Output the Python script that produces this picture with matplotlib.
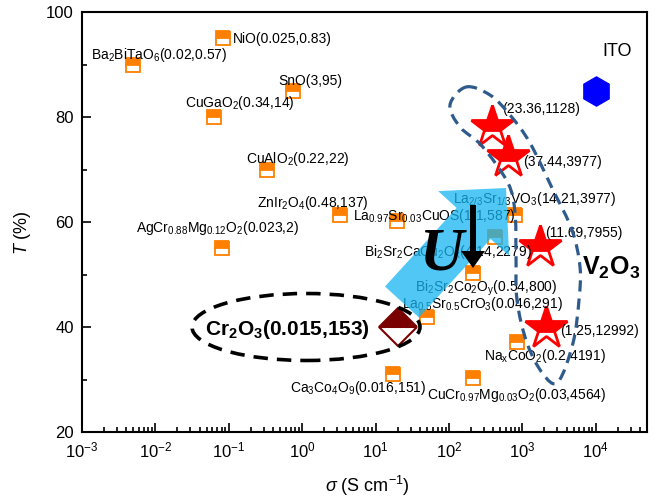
import numpy as np
import matplotlib
matplotlib.use("Agg")
import matplotlib.pyplot as plt
from matplotlib.patches import FancyArrow, Ellipse, PathPatch
from matplotlib.path import Path

plt.rcParams['font.family'] = ['Liberation Sans', 'DejaVu Sans']
plt.rcParams['mathtext.fontset'] = 'custom'
plt.rcParams['mathtext.rm'] = 'Liberation Sans'
plt.rcParams['mathtext.it'] = 'Liberation Sans:italic'
plt.rcParams['mathtext.bf'] = 'Liberation Sans:bold'

# p-type oxides (orange half-filled squares)
oxide_labels = [
    'Ba$_2$BiTaO$_6$(0.02,0.57)',
    'NiO(0.025,0.83)',
    'SnO(3,95)',
    'CuGaO$_2$(0.34,14)',
    'CuAlO$_2$(0.22,22)',
    'ZnIr$_2$O$_4$(0.48,137)',
    'AgCr$_{0.88}$Mg$_{0.12}$O$_2$(0.023,2)',
    'La$_{0.97}$Sr$_{0.03}$CuOS(1.1,587)',
    'La$_{2/3}$Sr$_{1/3}$VO$_3$(14.21,3977)',
    'Bi$_2$Sr$_2$CaCu$_2$O$_\\mathrm{x}$(4.14,2279)',
    'Bi$_2$Sr$_2$Co$_2$O$_\\mathrm{y}$(0.54,800)',
    'La$_{0.5}$Sr$_{0.5}$CrO$_3$(0.046,291)',
    'Ca$_3$Co$_4$O$_9$(0.016,151)',
    'CuCr$_{0.97}$Mg$_{0.03}$O$_2$(0.03,4564)',
    'Na$_\\mathrm{x}$CoO$_2$(0.2,4191)',
]
oxide_sigma = [0.005, 0.084, 0.76, 0.063, 0.33, 3.3, 0.081, 19.8, 807, 418, 216, 51, 17.5, 216, 834]
oxide_T = [90, 95, 85, 80, 70, 61.3, 55, 60.2, 61.3, 57.1, 50.3, 41.9, 31, 30.3, 37.1]

# V2O3 films (red stars)
v2o3_labels = ['(23.36,1128)', '(37.44,3977)', '(11.69,7955)', '(1.25,12992)']
v2o3_sigma = [392, 648, 1718, 2074]
v2o3_T = [78.1, 72.4, 55.2, 39.8]

cr2o3_label = 'Cr$_\\mathbf{2}$O$_\\mathbf{3}$(0.015,153)'
cr2o3_sigma = [20.5]
cr2o3_T = [40]

ito_sigma = [1e4]
ito_T = [85]

# label offsets (pixels, right / up from the marker)
oxide_offsets = [(-42, 6), (10, -5), (-15, 6), (-29, 10), (-21, 7), (-83, 8), (-86, 16),
                 (-44, 1), (-62, 12), (-131, -19), (-58, -19), (-25, 9), (-103, -18),
                 (-46, -21), (-33, -18)]
v2o3_offsets = [(10, 14), (15, -9), (6, 10), (15, -7)]
cr2o3_offset = (-193, -8)

ORANGE = '#FF7F00'

fig = plt.figure(figsize=(6.68, 5.0), dpi=100)
ax = fig.add_axes([82 / 668, 68 / 500, 565 / 668, 420 / 500])
ax.set_xscale('log')

ax.plot(oxide_sigma, oxide_T, ls='none', marker='s', ms=10, fillstyle='top',
        mfc=ORANGE, mfcalt='white', mec=ORANGE, mew=1.3, zorder=3)
ax.plot(v2o3_sigma, v2o3_T, ls='none', marker='*', ms=32, fillstyle='top',
        mfc='red', mfcalt='white', mec='red', mew=2, zorder=3)
ax.plot(cr2o3_sigma, cr2o3_T, ls='none', marker='D', ms=19, fillstyle='top',
        mfc='#7A0000', mfcalt='white', mec='#7A0000', mew=1.5, zorder=3)
ax.plot(ito_sigma, ito_T, ls='none', marker='h', ms=21, color='#0000FF', zorder=3)

px2pt = 0.72
for lab, x, y, off in zip(oxide_labels, oxide_sigma, oxide_T, oxide_offsets):
    ax.annotate(lab, (x, y), xytext=(off[0] * px2pt, off[1] * px2pt), textcoords='offset points',
                ha='left', va='baseline', fontsize=10, zorder=4)
for lab, x, y, off in zip(v2o3_labels, v2o3_sigma, v2o3_T, v2o3_offsets):
    ax.annotate(lab, (x, y), xytext=(off[0] * px2pt, off[1] * px2pt), textcoords='offset points',
                ha='left', va='baseline', fontsize=10, zorder=4)
ax.annotate(cr2o3_label, (cr2o3_sigma[0], cr2o3_T[0]),
            xytext=(cr2o3_offset[0] * px2pt, cr2o3_offset[1] * px2pt), textcoords='offset points',
            ha='left', va='baseline', fontsize=15, fontweight='bold', zorder=4)

ax.set_xlim(1e-3, 5e4)
ax.set_ylim(20, 100)
ax.set_yticks([20, 40, 60, 80, 100])
ax.set_yticks(np.arange(30, 100, 20), minor=True)
ax.tick_params(which='both', direction='in', top=False, right=False, labelsize=12, width=1.2)
ax.tick_params(which='major', length=6.5, pad=6)
ax.tick_params(which='minor', length=3.5)
for sp in ax.spines.values():
    sp.set_linewidth(1.5)

ax.set_xlabel('$\\sigma$ (S cm$^{-1}$)', fontsize=13)
ax.set_ylabel('$T$ (%)', fontsize=13)
ax.xaxis.set_label_coords(0.506, -0.1)
ax.yaxis.set_label_coords(-0.087, 0.474)


def inch(px, py):
    return (px / 100.0, (500 - py) / 100.0)


def smooth_closed(pts):
    pts = np.array(pts, dtype=float)
    n = len(pts)
    verts = [pts[0]]
    codes = [Path.MOVETO]
    for i in range(n):
        p0, p1, p2, p3 = pts[i - 1], pts[i], pts[(i + 1) % n], pts[(i + 2) % n]
        verts += [p1 + (p2 - p0) / 6.0, p2 - (p3 - p1) / 6.0, p2]
        codes += [Path.CURVE4] * 3
    return Path(verts, codes)


tr = fig.dpi_scale_trans

# big cyan arrow
x0, y0 = inch(402, 302)
x1, y1 = inch(506, 188)
fig.add_artist(FancyArrow(x0, y0, x1 - x0, y1 - y0, width=0.46, head_width=0.96,
                          head_length=0.48, length_includes_head=True, transform=tr,
                          color='#15B5F1', alpha=0.75, lw=0, zorder=5))

# black ellipse around Cr2O3
fig.add_artist(Ellipse(inch(306, 327), 2.28, 0.67, transform=tr, fill=False, ec='black',
                       lw=2.6, ls=(0, (4, 2.5)), zorder=6))

# blue dashed loop around V2O3
loop_px = [(466, 87), (490, 95), (510, 115), (530, 143), (553, 190), (572, 230), (580, 267),
           (579, 300), (573, 343), (558, 382), (543, 374), (527, 343), (517, 300), (516, 253),
           (515, 213), (508, 183), (482, 146), (460, 127), (450, 105)]
loop = smooth_closed([inch(*p) for p in loop_px])
fig.add_artist(PathPatch(loop, transform=tr, fill=False, ec='#2F5B8C', lw=2.3,
                         ls=(0, (3.5, 2.2)), zorder=6))

# black arrow and U
bx0, by0 = inch(473, 205)
bx1, by1 = inch(473, 268)
fig.add_artist(FancyArrow(bx0, by0, 0, by1 - by0, width=0.06, head_width=0.24, head_length=0.17,
                          length_includes_head=True, transform=tr, color='black', lw=0, zorder=7))
fig.text(441 / 668, 1 - 254 / 500, 'U', fontsize=44, family='Liberation Serif', style='italic',
         fontweight='bold', ha='center', va='center', zorder=7)

fig.text(582 / 668, 1 - 275 / 500, 'V$_\\mathbf{2}$O$_\\mathbf{3}$', fontsize=18,
         fontweight='bold', ha='left', va='baseline', zorder=7)
fig.text(617 / 668, 1 - 52 / 500, 'ITO', fontsize=13, ha='center', va='center', zorder=7)

fig.savefig('out.png', dpi=100)
